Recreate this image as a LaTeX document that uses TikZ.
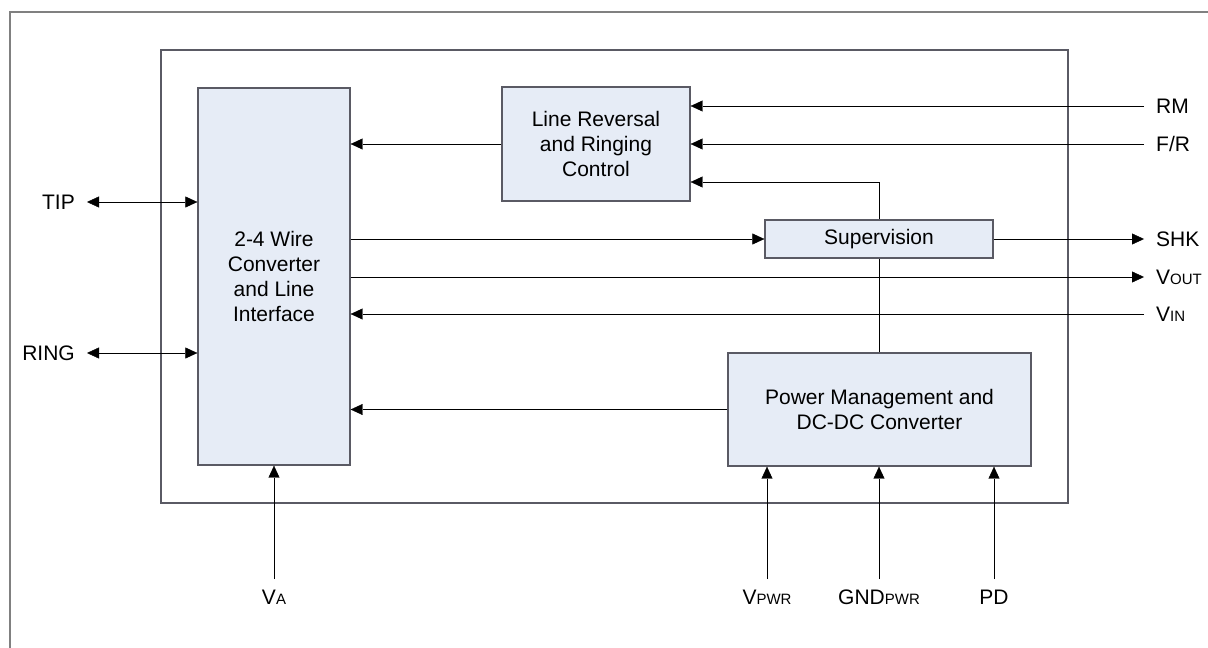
\documentclass[tikz,border=0pt]{standalone}
\usepackage{fontspec}
\setmainfont{Liberation Sans}
\usetikzlibrary{arrows.meta}

\newcommand{\pinsub}[1]{{\fontsize{15}{15}\selectfont #1}}
\definecolor{blockfill}{RGB}{230,236,246}
\definecolor{blockline}{RGB}{90,90,100}
\definecolor{framegray}{RGB}{128,128,128}

\begin{document}
\begin{tikzpicture}[x=1pt, y=-1pt, >={Triangle[length=12pt,width=11pt]},
    font=\fontsize{21}{25}\selectfont,
    block/.style={draw=blockline, line width=1.3pt, fill=blockfill, align=center, inner sep=0pt},
    pinleft/.style={anchor=east, inner xsep=12pt, inner ysep=0pt},
    pinright/.style={anchor=west, inner xsep=12pt, inner ysep=0pt},
    pinbottom/.style={anchor=north, inner xsep=0pt, inner ysep=11pt}]
        \useasboundingbox (0,0) rectangle (1208,648);
        \draw[framegray, line width=2pt] (10,648) -- (10,12) -- (1208,12);
        \node[draw=blockline, line width=1.3pt, minimum width=907pt, minimum height=453pt, inner sep=0pt] (chip) at (614.5,276.5) {};

        \node[block, minimum width=152pt, minimum height=377pt] (wire) at (274,276.5) {2-4 Wire\\Converter\\and Line\\Interface};
        \node[block, minimum width=188pt, minimum height=114pt] (lrc) at (596,144) {Line Reversal\\and Ringing\\Control};
        \node[block, minimum width=303pt, minimum height=113pt] (pwr) at (879.5,409.5) {Power Management and\\DC-DC Converter};
        \coordinate (lrcin) at ([yshift=-38pt]lrc.east);
        \draw[->] (pwr.north) |- (lrcin);
        \node[block, minimum width=228pt, minimum height=38pt] (sup) at (879,239) {Supervision};

        % pins
        \node[pinright] (rm) at (1144,106) {RM};
        \node[pinright] (fr) at (1144,144) {F/R};
        \node[pinright] (shk) at (1144,239) {SHK};
        \node[pinright] (vout) at (1144,277) {V\pinsub{OUT}};
        \node[pinright] (vin) at (1144,314) {V\pinsub{IN}};
        \node[pinleft] (tip) at (87,202) {TIP};
        \node[pinleft] (ring) at (87,353) {RING};
        \node[pinbottom] (va) at (274,579) {V\pinsub{A}};
        \node[pinbottom] (vpwr) at (767,579) {V\pinsub{PWR}};
        \node[pinbottom] (gnd) at (879,579) {GND\pinsub{PWR}};
        \node[pinbottom] (pd) at (994,579) {PD};

        \draw[->] (lrc.west) -- (lrc.west -| wire.east);
        \draw[->] (rm.west) -- (rm.west -| lrc.east);
        \draw[->] (fr.west) -- (fr.west -| lrc.east);
        \draw[<->] (tip.east) -- (tip.east -| wire.west);
        \draw[<->] (ring.east) -- (ring.east -| wire.west);
        \draw[->] (sup.west -| wire.east) -- (sup.west);
        \draw[->] (sup.east) -- (shk.west);
        \draw[->] (vout.west -| wire.east) -- (vout.west);
        \draw[->] (vin.west) -- (vin.west -| wire.east);
        \draw[->] (pwr.west) -- (pwr.west -| wire.east);
        \draw[->] (va.north) -- (wire.south);
        \draw[->] (vpwr.north) -- (vpwr.north |- pwr.south);
        \draw[->] (gnd.north) -- (gnd.north |- pwr.south);
        \draw[->] (pd.north) -- (pd.north |- pwr.south);
      \end{tikzpicture}
\end{document}
